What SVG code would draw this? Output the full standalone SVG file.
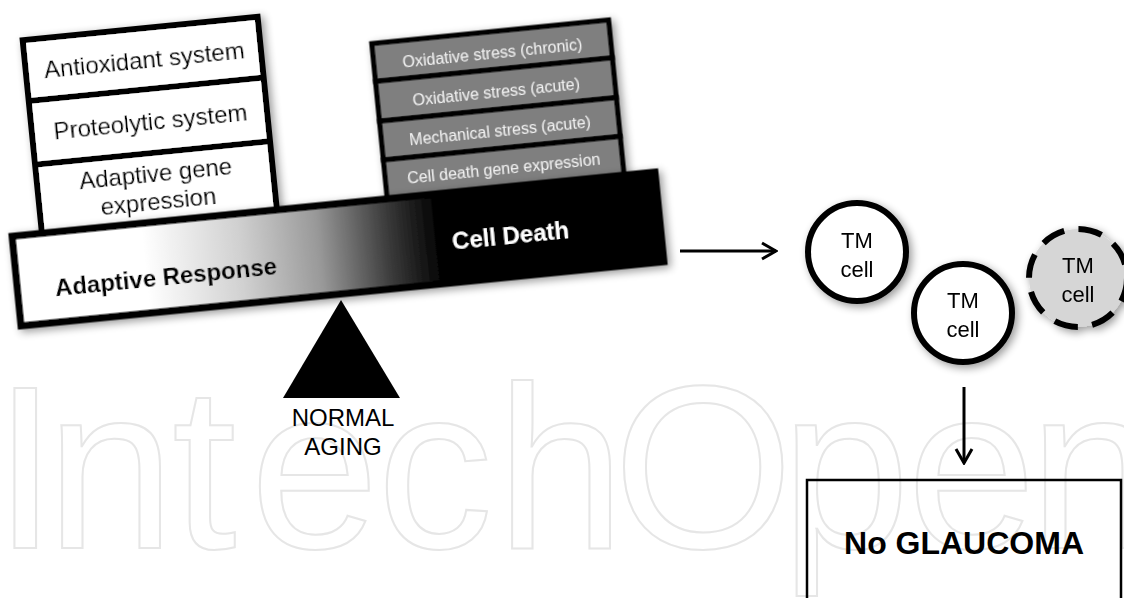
<svg xmlns="http://www.w3.org/2000/svg" width="1124" height="598" viewBox="0 0 1124 598">
<defs>
<style>
text{font-family:"Liberation Sans",Arial,sans-serif}
.wm{font-size:232px;fill:none;stroke:#e6e6e6;stroke-width:2}
.box{fill:#fff;stroke:#000;stroke-width:6}
.gbox{fill:#7f7f7f;stroke:#000;stroke-width:5}
.lt{font-size:24px;fill:#000;text-anchor:middle}
.gt{font-size:16px;fill:#f2f2f2;text-anchor:middle}
.bt{font-size:24px;font-weight:bold;text-anchor:middle}
.ct{font-size:22px;fill:#000;text-anchor:middle}
.cell{fill:#fff;stroke:#000;stroke-width:6}
.conn{stroke:#000;stroke-width:3;fill:none}
</style>
<linearGradient id="beamGrad" x1="0" y1="0" x2="1" y2="0">
<stop offset="0" stop-color="#fff"/>
<stop offset="0.2" stop-color="#fff"/>
<stop offset="0.35" stop-color="#d0d0d0"/>
<stop offset="0.47" stop-color="#999"/>
<stop offset="0.58" stop-color="#3a3a3a"/>
<stop offset="0.66" stop-color="#000"/>
<stop offset="1" stop-color="#000"/>
</linearGradient>
<filter id="shadow" x="-20%" y="-20%" width="140%" height="140%">
<feGaussianBlur in="SourceAlpha" stdDeviation="4"/>
<feOffset dx="3" dy="3" result="b"/>
<feComponentTransfer><feFuncA type="linear" slope="0.4"/></feComponentTransfer>
<feMerge><feMergeNode/><feMergeNode in="SourceGraphic"/></feMerge>
</filter>
<marker id="chev" markerUnits="userSpaceOnUse" viewBox="0 0 18 20" refX="16" refY="10" markerWidth="18" markerHeight="20" orient="auto">
<path d="M2,2 L16,10 L2,18" fill="none" stroke="#000" stroke-width="3"/>
</marker>
</defs>
<rect width="1124" height="598" fill="#fff"/>
<text class="wm" x="-7 46 172 250 377 496 613 781 907 1029" y="548">IntechOpen</text>

<g id="balance" transform="rotate(-5.7 338 249)">
<g id="left-stack" filter="url(#shadow)">
<rect class="box" x="45" y="10" width="236" height="194"/>
<line x1="45" y1="71" x2="281" y2="71" stroke="#000" stroke-width="6"/>
<line x1="45" y1="135" x2="281" y2="135" stroke="#000" stroke-width="6"/>
<text class="lt" x="164" y="50">Antioxidant system</text>
<text class="lt" x="164" y="112">Proteolytic system</text>
<text class="lt" x="164" y="164">Adaptive gene</text>
<text class="lt" x="164" y="192">expression</text>
</g>
<g id="right-stack" filter="url(#shadow)">
<rect class="gbox" x="392" y="48" width="238" height="38"/>
<rect class="gbox" x="392" y="86" width="238" height="40"/>
<rect class="gbox" x="392" y="126" width="238" height="39"/>
<rect class="gbox" x="392" y="165" width="238" height="39"/>
<text class="gt" x="511" y="75">Oxidative stress (chronic)</text>
<text class="gt" x="511" y="114">Oxidative stress (acute)</text>
<text class="gt" x="511" y="153">Mechanical stress (acute)</text>
<text class="gt" x="511" y="191">Cell death gene expression</text>
</g>
<g id="beam" filter="url(#shadow)">
<rect x="15" y="204" width="646" height="90" fill="url(#beamGrad)" stroke="#000" stroke-width="7"/>
<text class="bt" x="164" y="268" fill="#000">Adaptive Response</text>
<text class="bt" x="511" y="261" fill="#fff">Cell Death</text>
</g>
</g>

<g id="fulcrum">
<polygon points="341,300 283,398 400,398" fill="#000"/>
<text class="lt" x="343" y="426">NORMAL</text>
<text class="lt" x="343" y="455">AGING</text>
</g>

<g id="connectors">
<line class="conn" x1="680" y1="251" x2="776" y2="251" marker-end="url(#chev)"/>
<line class="conn" x1="964" y1="387" x2="964" y2="463" marker-end="url(#chev)"/>
</g>

<g id="cell1" filter="url(#shadow)">
<circle class="cell" cx="857" cy="252" r="49"/>
<text class="ct" x="857" y="248">TM</text>
<text class="ct" x="857" y="277">cell</text>
</g>
<g id="cell2" filter="url(#shadow)">
<circle class="cell" cx="963" cy="313" r="49"/>
<text class="ct" x="963" y="308">TM</text>
<text class="ct" x="963" y="337">cell</text>
</g>
<g id="cell3" filter="url(#shadow)">
<circle cx="1078" cy="278" r="49" fill="#d6d6d6" stroke="#000" stroke-width="6" stroke-dasharray="24 14.5"/>
<text class="ct" x="1078" y="273">TM</text>
<text class="ct" x="1078" y="302">cell</text>
</g>

<g id="no-glaucoma">
<rect x="807" y="480" width="314" height="140" fill="none" stroke="#000" stroke-width="2.5"/>
<text x="964" y="554" font-size="32" font-weight="bold" text-anchor="middle" fill="#000">No GLAUCOMA</text>
</g>
</svg>
